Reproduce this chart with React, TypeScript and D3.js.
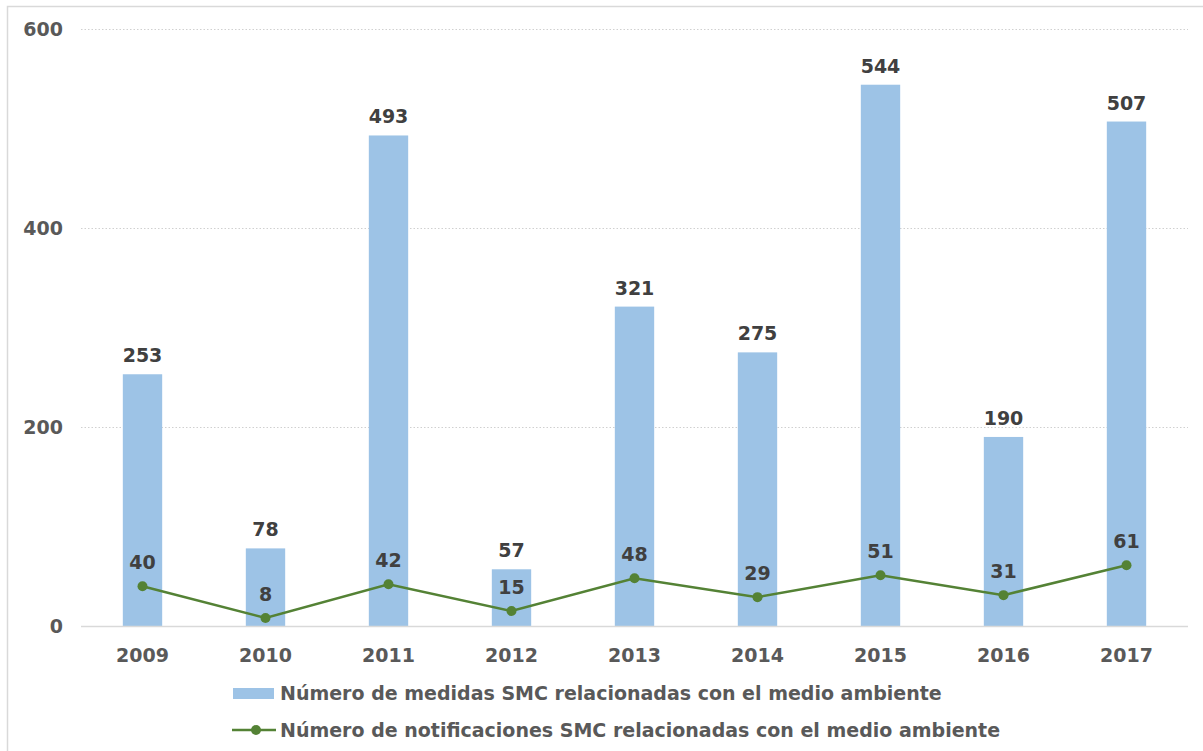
import { useEffect, useRef } from "react"
import * as d3 from "d3"

const years = ["2009", "2010", "2011", "2012", "2013", "2014", "2015", "2016", "2017"]
const medidas = [253, 78, 493, 57, 321, 275, 544, 190, 507]
const notificaciones = [40, 8, 42, 15, 48, 29, 51, 31, 61]
const yTicks = [0, 200, 400, 600]

const barLabel = "Número de medidas SMC relacionadas con el medio ambiente"
const lineLabel = "Número de notificaciones SMC relacionadas con el medio ambiente"

const width = 1203
const height = 751
const barColor = "#9DC3E6"
const lineColor = "#548235"
const font = "'DejaVu Sans', Verdana, sans-serif"
const fs = 19

export default function App() {
  const svgRef = useRef<SVGSVGElement>(null)

  useEffect(() => {
    if (!svgRef.current) return
    const svg = d3.select(svgRef.current)
    svg.selectAll("*").remove()

    // chart frame
    svg
      .append("rect")
      .attr("x", 7.5)
      .attr("y", 6.5)
      .attr("width", width)
      .attr("height", height)
      .attr("fill", "#fff")
      .attr("stroke", "#d9d9d9")
      .attr("stroke-width", 1.5)

    const x = d3.scaleBand().domain(years).range([81, 1188]).paddingInner(0.68).paddingOuter(0.34)
    const y = d3.scaleLinear().domain([0, 600]).range([626, 29])

    // grid
    svg
      .append("g")
      .selectAll("line")
      .data(yTicks.filter((t) => t > 0))
      .enter()
      .append("line")
      .attr("x1", 81)
      .attr("x2", 1188)
      .attr("y1", (d) => y(d) + 0.5)
      .attr("y2", (d) => y(d) + 0.5)
      .attr("stroke", "#d0d0d0")
      .attr("stroke-width", 1)
      .attr("stroke-dasharray", "1.5,2")

    // y labels
    svg
      .append("g")
      .selectAll("text")
      .data(yTicks)
      .enter()
      .append("text")
      .attr("x", 63)
      .attr("y", (d) => y(d))
      .attr("dy", "0.35em")
      .attr("text-anchor", "end")
      .attr("font-family", font)
      .attr("font-weight", "bold")
      .attr("font-size", fs)
      .attr("fill", "#595959")
      .text((d) => d)

    // bars
    svg
      .append("g")
      .selectAll("rect")
      .data(medidas)
      .enter()
      .append("rect")
      .attr("x", (_, i) => x(years[i])!)
      .attr("y", (d) => y(d))
      .attr("width", x.bandwidth())
      .attr("height", (d) => y(0) - y(d))
      .attr("fill", barColor)

    // baseline
    svg
      .append("line")
      .attr("x1", 81)
      .attr("x2", 1188)
      .attr("y1", y(0) + 0.5)
      .attr("y2", y(0) + 0.5)
      .attr("stroke", "#d9d9d9")
      .attr("stroke-width", 1.5)

    // bar labels
    svg
      .append("g")
      .selectAll("text")
      .data(medidas)
      .enter()
      .append("text")
      .attr("x", (_, i) => x(years[i])! + x.bandwidth() / 2)
      .attr("y", (d) => y(d) - 12)
      .attr("text-anchor", "middle")
      .attr("font-family", font)
      .attr("font-weight", "bold")
      .attr("font-size", fs)
      .attr("fill", "#404040")
      .text((d) => d)

    const cx = (i: number) => x(years[i])! + x.bandwidth() / 2

    // line
    const line = d3
      .line<number>()
      .x((_, i) => cx(i))
      .y((d) => y(d))
    svg
      .append("path")
      .datum(notificaciones)
      .attr("fill", "none")
      .attr("stroke", lineColor)
      .attr("stroke-width", 2.5)
      .attr("d", line)

    svg
      .append("g")
      .selectAll("circle")
      .data(notificaciones)
      .enter()
      .append("circle")
      .attr("cx", (_, i) => cx(i))
      .attr("cy", (d) => y(d))
      .attr("r", 5)
      .attr("fill", lineColor)

    svg
      .append("g")
      .selectAll("text")
      .data(notificaciones)
      .enter()
      .append("text")
      .attr("x", (_, i) => cx(i))
      .attr("y", (d) => y(d) - 17)
      .attr("text-anchor", "middle")
      .attr("font-family", font)
      .attr("font-weight", "bold")
      .attr("font-size", fs)
      .attr("fill", "#404040")
      .text((d) => d)

    // x labels
    svg
      .append("g")
      .selectAll("text")
      .data(years)
      .enter()
      .append("text")
      .attr("x", (d) => x(d)! + x.bandwidth() / 2)
      .attr("y", 662)
      .attr("text-anchor", "middle")
      .attr("font-family", font)
      .attr("font-weight", "bold")
      .attr("font-size", fs)
      .attr("fill", "#595959")
      .text((d) => d)

    // legend
    const lg = svg.append("g")
    lg.append("rect").attr("x", 233).attr("y", 688).attr("width", 41).attr("height", 11).attr("fill", barColor)
    lg.append("text")
      .attr("x", 280)
      .attr("y", 693.5)
      .attr("dy", "0.35em")
      .attr("font-family", font)
      .attr("font-weight", "bold")
      .attr("font-size", fs)
      .attr("fill", "#595959")
      .text(barLabel)
    lg.append("line")
      .attr("x1", 232)
      .attr("x2", 276)
      .attr("y1", 730)
      .attr("y2", 730)
      .attr("stroke", lineColor)
      .attr("stroke-width", 2.5)
    lg.append("circle").attr("cx", 256).attr("cy", 730).attr("r", 5).attr("fill", lineColor)
    lg.append("text")
      .attr("x", 280)
      .attr("y", 730)
      .attr("dy", "0.35em")
      .attr("font-family", font)
      .attr("font-weight", "bold")
      .attr("font-size", fs)
      .attr("fill", "#595959")
      .text(lineLabel)
  }, [])

  return (
    <svg
      ref={svgRef}
      width={width}
      height={height}
      style={{ position: "absolute", left: 0, top: 0, display: "block" }}
    />
  )
}
